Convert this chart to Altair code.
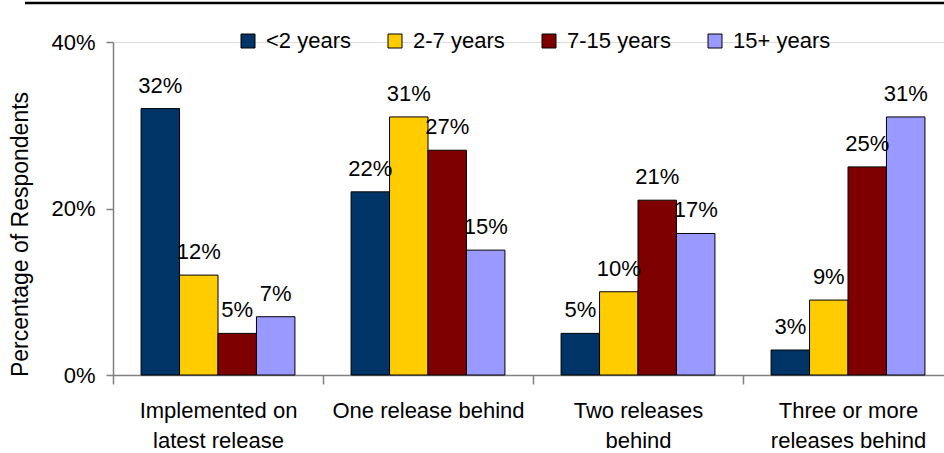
import altair as alt
import pandas as pd

# Survey data: share of respondents by how far behind the latest release they run
categories = [
    "Implemented on|latest release",
    "One release behind",
    "Two releases|behind",
    "Three or more|releases behind",
]
groups = ["<2 years", "2-7 years", "7-15 years", "15+ years"]
colors = ["#003366", "#FFCC00", "#7F0000", "#9999FF"]

values = {
    "<2 years": [32, 22, 5, 3],
    "2-7 years": [12, 31, 10, 9],
    "7-15 years": [5, 27, 21, 25],
    "15+ years": [7, 15, 17, 31],
}

rows = []
for g in groups:
    for c, v in zip(categories, values[g]):
        rows.append({"category": c, "group": g, "value": v, "label": f"{v}%"})
df = pd.DataFrame(rows)

FONT = "Liberation Sans"
W, H = 831, 333

x_enc = alt.X(
    "category:N",
    sort=categories,
    scale=alt.Scale(range=[0, 840], paddingInner=0, paddingOuter=0),
    axis=alt.Axis(
        title=None,
        labelAngle=0,
        labelExpr="split(datum.label, '|')",
        labelFontSize=22,
        labelLineHeight=30,
        labelColor="black",
        labelFont=FONT,
        labelPadding=16,
        labelBaseline="top",
        labelLimit=0,
        tickBand="extent",
        tickSize=9,
        tickColor="#808080",
        domainColor="#808080",
        domainWidth=1.5,
        tickWidth=1.5,
    ),
)
xoff = alt.XOffset(
    "group:N", sort=groups, scale=alt.Scale(paddingInner=0, paddingOuter=0.73)
)
y_enc = alt.Y(
    "value:Q",
    scale=alt.Scale(domain=[0, 40], nice=False),
    axis=alt.Axis(
        title="Percentage of Respondents",
        values=[0, 20, 40],
        labelExpr="datum.value + '%'",
        labelFontSize=22,
        labelColor="black",
        labelFont=FONT,
        labelPadding=11,
        tickSize=7,
        tickColor="#808080",
        tickWidth=1.5,
        domainColor="#808080",
        domainWidth=1.5,
        grid=False,
        titleFont=FONT,
        titleFontSize=23,
        titleFontWeight="normal",
        titleColor="black",
        titleX=-86,
        titleY=192,
        titleAlign="center",
        titleBaseline="alphabetic",
        titleAngle=270,
    ),
)

bars = alt.Chart(df).mark_bar(stroke="black", strokeWidth=1).encode(
    x=x_enc,
    xOffset=xoff,
    y=y_enc,
    color=alt.Color(
        "group:N",
        sort=groups,
        scale=alt.Scale(domain=groups, range=colors),
        legend=alt.Legend(
            title=None,
            orient="none",
            direction="horizontal",
            columns=4,
            legendX=124,
            legendY=-12,
            symbolType="square",
            symbolSize=196,
            symbolStrokeColor="black",
            symbolStrokeWidth=1,
            symbolOpacity=1,
            labelFontSize=22,
            labelFont=FONT,
            labelColor="black",
            labelOffset=7,
            columnPadding=33,
        ),
    ),
)

labels = alt.Chart(df).mark_text(
    fontSize=22, font=FONT, color="black", dy=-16, baseline="alphabetic"
).encode(x=x_enc, xOffset=xoff, y=y_enc, text="label:N")

# Heavy rule across the top of the figure
top_rule = alt.Chart(pd.DataFrame({"k": [0]})).mark_rule(
    color="black", strokeWidth=2.5
).encode(x=alt.value(-88), x2=alt.value(W + 20), y=alt.value(-39))

chart = (
    alt.layer(bars, labels, top_rule)
    .properties(
        width=W,
        height=H,
        autosize=alt.AutoSizeParams(type="none"),
        padding={"left": 113, "top": 42, "right": 0, "bottom": 78},
    )
    .configure_view(stroke=None)
    .configure(background="white")
)

chart.save("out.html", embed_options={"renderer": "svg", "actions": False})
